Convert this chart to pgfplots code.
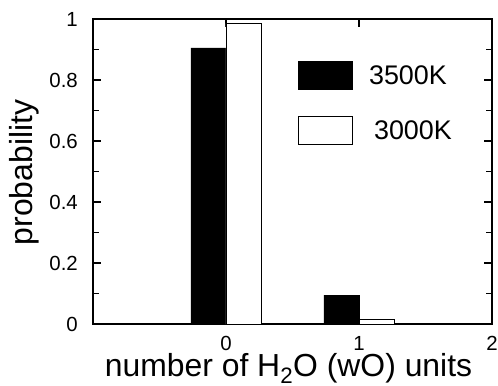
\documentclass[border=0pt]{standalone}
\usepackage{pgfplots}
\pgfplotsset{compat=1.18}
\usepackage{fontspec}
\setmainfont{Liberation Sans}
\newfontfamily\tickfam{Liberation Sans}[Scale=2.05]
\newfontfamily\legfam{Liberation Sans}[Scale=2.7]
\usetikzlibrary{calc}
\newcommand\labfont{\fontsize{32}{34}\selectfont}
\begin{document}
\begin{tikzpicture}
\pgfplotsset{
  myleg/.style={legend image code/.code={\draw[line width=0.8bp,##1] (0bp,-14bp) rectangle (54bp,14bp);}}
}
\begin{axis}[
  scale only axis, width=399bp, height=305bp,
  xmin=-1, xmax=2, ymin=0, ymax=1,
  xtick={0,1,2}, xticklabels={0,1,2},
  ytick={0,0.2,0.4,0.6,0.8,1}, yticklabels={0,0.2,0.4,0.6,0.8,1},
  minor y tick num=1,
  tick align=inside, major tick length=8bp, minor tick length=6bp,
  axis line style={line width=1.6bp},
  every tick/.style={line width=1.2bp, black},
  tick label style={font=\tickfam},
  xticklabel style={anchor=base, inner sep=0pt, yshift=-26bp},
  yticklabel style={anchor=east, inner sep=0pt, xshift=-15bp},
  xlabel={number of H\textsubscript{2}O (wO) units},
  ylabel={probability},
  every axis x label/.style={at={(rel axis cs:0.5,0)}, xshift=-4bp, yshift=-52bp, anchor=base, font=\labfont},
  every axis y label/.style={at={(rel axis cs:0,0.5)}, xshift=-60bp, yshift=-1bp, rotate=90, anchor=base, font=\labfont},
  legend style={at={(rel axis cs:0.514,0.862)}, anchor=north west, draw=none, fill=none,
    inner sep=0pt, row sep=26bp, cells={anchor=west}, font=\legfam},
]
\coordinate (sw) at (rel axis cs:0,0);
\coordinate (ne) at (rel axis cs:1,1);
\addplot[ybar, bar width=35bp, bar shift=-17.5bp, fill=black, draw=black, line width=0.8bp, myleg]
  coordinates {(0,0.905) (1,0.095)};
\addlegendentry{\hspace{14bp}3500K}
\addplot[ybar, bar width=35bp, bar shift=17.5bp, fill=white, draw=black, line width=0.8bp, myleg]
  coordinates {(0,0.986) (1,0.015)};
\addlegendentry{\hspace{19bp}3000K}
\end{axis}
\pgfresetboundingbox
\path ($(sw)+(-93bp,-62bp)$) rectangle ($(ne)+(6bp,19bp)$);
\end{tikzpicture}
\end{document}
